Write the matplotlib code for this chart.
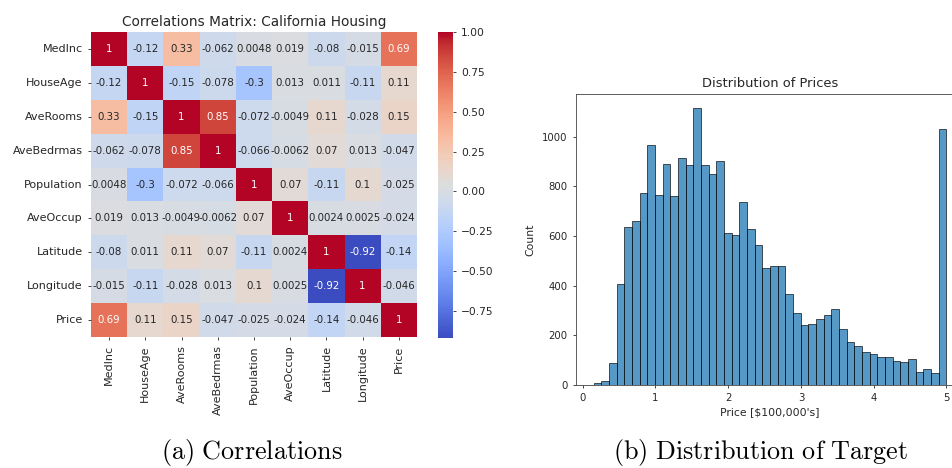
import matplotlib
matplotlib.use("Agg")
import matplotlib.pyplot as plt
import numpy as np
import pandas as pd
import seaborn as sns

features = ["MedInc", "HouseAge", "AveRooms", "AveBedrmas", "Population",
            "AveOccup", "Latitude", "Longitude", "Price"]

corr_medinc = [1, -0.12, 0.33, -0.062, 0.0048, 0.019, -0.08, -0.015, 0.69]
corr_houseage = [-0.12, 1, -0.15, -0.078, -0.3, 0.013, 0.011, -0.11, 0.11]
corr_averooms = [0.33, -0.15, 1, 0.85, -0.072, -0.0049, 0.11, -0.028, 0.15]
corr_avebedrms = [-0.062, -0.078, 0.85, 1, -0.066, -0.0062, 0.07, 0.013, -0.047]
corr_population = [0.0048, -0.3, -0.072, -0.066, 1, 0.07, -0.11, 0.1, -0.025]
corr_aveoccup = [0.019, 0.013, -0.0049, -0.0062, 0.07, 1, 0.0024, 0.0025, -0.024]
corr_latitude = [-0.08, 0.011, 0.11, 0.07, -0.11, 0.0024, 1, -0.92, -0.14]
corr_longitude = [-0.015, -0.11, -0.028, 0.013, 0.1, 0.0025, -0.92, 1, -0.046]
corr_price = [0.69, 0.11, 0.15, -0.047, -0.025, -0.024, -0.14, -0.046, 1]

# histogram of the target, 46 bins between min and max price
price_min, price_max = 0.15, 5.0
price_counts = [8, 16, 88, 408, 636, 660, 774, 966, 764, 889, 760, 915, 886,
                1117, 886, 851, 902, 612, 605, 736, 630, 564, 471, 477, 480,
                366, 290, 240, 245, 264, 282, 306, 226, 171, 158, 132, 125,
                113, 110, 96, 92, 105, 50, 62, 49, 1032]

corr = pd.DataFrame(
    [corr_medinc, corr_houseage, corr_averooms, corr_avebedrms, corr_population,
     corr_aveoccup, corr_latitude, corr_longitude, corr_price],
    index=features, columns=features,
)

W, H = 953, 468
fig = plt.figure(figsize=(W / 100, H / 100), dpi=100)
text_color = "#262626"


def box(x0, y0, x1, y1):
    # pixel box (top-left origin) -> figure coords
    return [x0 / W, 1 - y1 / H, (x1 - x0) / W, (y1 - y0) / H]


# (a) correlation heatmap
ax1 = fig.add_axes(box(91, 32, 417, 337))
cax = fig.add_axes(box(438, 32, 453, 338))
sns.heatmap(corr, annot=True, cmap="coolwarm", ax=ax1, cbar_ax=cax,
            annot_kws={"size": 7.4})
ax1.set_title("Correlations Matrix: California Housing", fontsize=9.8,
              color=text_color, pad=4)
ax1.tick_params(labelsize=8, colors=text_color, length=2.5, width=0.6)
ax1.set_xticklabels(features, rotation=90)
ax1.set_yticklabels(features, rotation=0)
cax.tick_params(labelsize=7.7, colors=text_color, length=2.5, width=0.6)
cax.set_yticks([-0.75, -0.5, -0.25, 0, 0.25, 0.5, 0.75, 1.0])

# (b) distribution of prices
ax2 = fig.add_axes(box(576, 94, 964, 384.7))
edges = np.linspace(price_min, price_max, len(price_counts) + 1)
ax2.bar(edges[:-1], price_counts, width=np.diff(edges), align="edge",
        color="#1f77b4", alpha=0.75, edgecolor="black", linewidth=0.6)
ax2.set_xlim(price_min - 0.05 * (price_max - price_min),
             price_max + 0.05 * (price_max - price_min))
ax2.set_ylim(0, max(price_counts) * 1.05)
ax2.set_xticks([0, 1, 2, 3, 4, 5])
ax2.set_yticks([0, 200, 400, 600, 800, 1000])
ax2.set_title("Distribution of Prices", fontsize=9.4, color=text_color, pad=5)
ax2.set_xlabel("Price [$100,000's]", fontsize=7.8, color=text_color, labelpad=3)
ax2.set_ylabel("Count", fontsize=7.8, color=text_color, labelpad=5)
ax2.tick_params(labelsize=7.3, colors=text_color, length=2.5, width=0.6)
for s in ax2.spines.values():
    s.set_linewidth(0.6)
    s.set_color("#444444")

# subfigure captions
plt.rcParams["mathtext.fontset"] = "cm"
fig.text(252 / W, 1 - 453 / H, r"$\mathrm{(a)\ Correlations}$",
         ha="center", va="center", fontsize=18.8)
fig.text(761 / W, 1 - 453 / H, r"$\mathrm{(b)\ Distribution\ of\ Target}$",
         ha="center", va="center", fontsize=18.8)

fig.savefig("out.png", dpi=100)
